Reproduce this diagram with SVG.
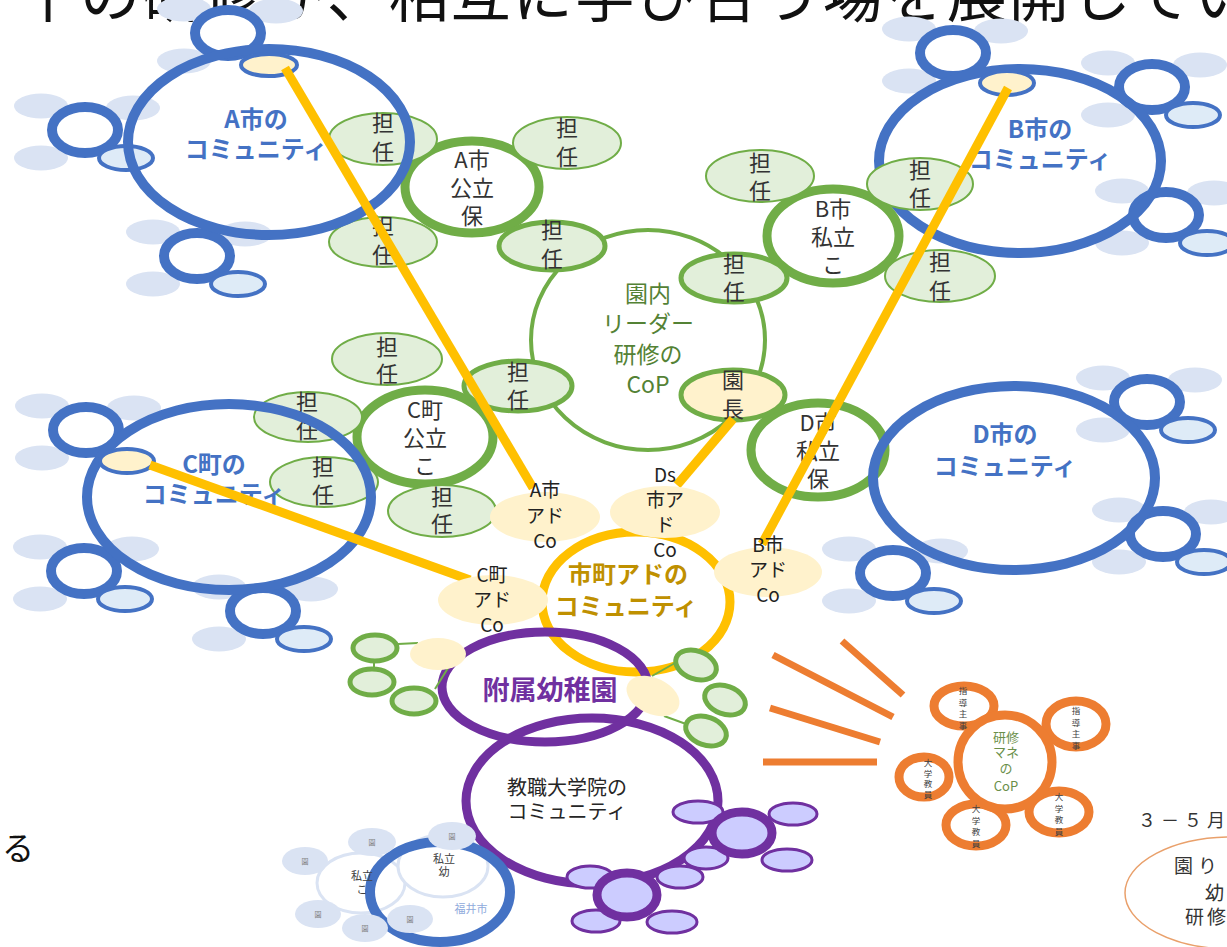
<svg xmlns="http://www.w3.org/2000/svg" width="1227" height="947" viewBox="0 0 1227 947">
  <defs>
    <style>
      text { font-family: "Noto Sans CJK JP", "Noto Sans", sans-serif; text-anchor: middle; }
      .title { font-size: 60px; fill: #111; text-anchor: start; letter-spacing: 2px; }
      .comm { fill: none; stroke: #4472C4; stroke-width: 10; }
      .sat { fill: #fff; stroke: #4472C4; stroke-width: 10; }
      .halo { fill: #DAE3F3; }
      .bud { fill: #DEEBF7; stroke: #4472C4; stroke-width: 4; }
      .cap { fill: #FFF2CC; stroke: #4472C4; stroke-width: 4; }
      .clabel { font-size: 24px; font-weight: bold; fill: #4472C4; }
      .cop { fill: #fff; stroke: #70AD47; stroke-width: 4; }
      .gring { fill: #fff; stroke: #70AD47; stroke-width: 9; }
      .tan { fill: #E2EFDA; stroke: #70AD47; stroke-width: 2; }
      .tan5 { fill: #E2EFDA; stroke: #70AD47; stroke-width: 5; }
      .head { fill: #FFF2CC; stroke: #70AD47; stroke-width: 5; }
      .gt { font-size: 22px; fill: #333; }
      .copt { font-size: 23px; fill: #548235; }
      .co { fill: #FFF2CC; }
      .cot { font-size: 19px; fill: #222; }
      .link { stroke: #FFC000; stroke-width: 9; fill: none; }
      .adring { fill: none; stroke: #FFC000; stroke-width: 9; }
      .adt { font-size: 24px; font-weight: bold; fill: #BF9000; }
      .pring { fill: none; stroke: #7030A0; stroke-width: 9; }
      .psat { fill: #CCCCFF; stroke: #7030A0; stroke-width: 9; }
      .pbud { fill: #CCCCFF; stroke: #7030A0; stroke-width: 3; }
      .gbud { fill: #E2EFDA; stroke: #70AD47; stroke-width: 5; }
      .thin { stroke: #70AD47; stroke-width: 2; fill: none; }
      .ray { stroke: #ED7D31; stroke-width: 7; }
      .oring { fill: #fff; stroke: #ED7D31; stroke-width: 9; }
      .vt { font-size: 8.5px; fill: #404040; }
      .faint { fill: #fff; stroke: #DAE3F3; stroke-width: 3; }
      .en { font-size: 7px; fill: #7F7F7F; }
      .small { font-size: 11px; fill: #404040; }
    </style>
    <!-- satellite school cluster: ring with three halo ellipses -->
    <g id="cluster">
      <ellipse class="halo" cx="-44" cy="-24" rx="27" ry="12.5"/>
      <ellipse class="halo" cx="48" cy="-22" rx="27" ry="12.5"/>
      <ellipse class="halo" cx="-44" cy="28" rx="27" ry="12.5"/>
      <ellipse class="sat" cx="0" cy="0" rx="33" ry="23"/>
    </g>
    <ellipse id="budA" class="bud" cx="41" cy="28" rx="27" ry="12"/>
  </defs>

  <!-- heading line running off the top edge -->
  <text class="title" x="18" y="17">十の研修が、相互に学び合う場を展開していく</text>

  <!-- B city community (sits beneath its member nodes) -->
  <g id="b-community">
    <use href="#cluster" x="953" y="53"/>
    <use href="#cluster" x="1152" y="87"/>
    <use href="#budA" x="1152" y="87"/>
    <use href="#cluster" x="1166" y="215"/>
    <use href="#budA" x="1166" y="215"/>
    <ellipse class="comm" cx="1020" cy="161" rx="141" ry="92"/>
    <ellipse class="cap" cx="1007" cy="83" rx="27" ry="12"/>
    <text class="clabel" x="1040" y="138">B市の</text>
    <text class="clabel" x="1040" y="168">コミュニティ</text>
  </g>

  <!-- in-kindergarten leader training CoP -->
  <g id="leader-cop">
    <ellipse class="cop" cx="648" cy="340" rx="117" ry="110"/>
    <text class="copt" x="648" y="302">園内</text>
    <text class="copt" x="648" y="332">リーダー</text>
    <text class="copt" x="648" y="363">研修の</text>
    <text class="copt" x="648" y="393">CoP</text>
  </g>

  <g id="a-public">
    <ellipse class="gring" cx="472" cy="187" rx="67" ry="46"/>
    <text class="gt" x="472" y="168">A市</text>
    <text class="gt" x="472" y="196">公立</text>
    <text class="gt" x="472" y="224">保</text>
  </g>
  <g id="b-private">
    <ellipse class="gring" cx="833" cy="236" rx="66" ry="47"/>
    <text class="gt" x="833" y="217">B市</text>
    <text class="gt" x="833" y="245">私立</text>
    <text class="gt" x="833" y="273">こ</text>
  </g>
  <g id="c-public">
    <ellipse class="gring" cx="425" cy="437" rx="68" ry="47"/>
    <text class="gt" x="425" y="418">C町</text>
    <text class="gt" x="425" y="446">公立</text>
    <text class="gt" x="425" y="474">こ</text>
  </g>
  <g id="d-private">
    <ellipse class="gring" cx="818" cy="450" rx="67" ry="47"/>
    <text class="gt" x="818" y="431">D市</text>
    <text class="gt" x="818" y="459">私立</text>
    <text class="gt" x="818" y="487">保</text>
  </g>

  <!-- homeroom teachers -->
  <g id="teachers">
    <g><ellipse class="tan" cx="383" cy="139" rx="54" ry="26"/><text class="gt" x="383" y="131">担<tspan x="383" dy="29">任</tspan></text></g>
    <g><ellipse class="tan" cx="567" cy="143" rx="54" ry="26"/><text class="gt" x="567" y="136">担<tspan x="567" dy="29">任</tspan></text></g>
    <g><ellipse class="tan" cx="383" cy="242" rx="54" ry="25"/><text class="gt" x="383" y="234">担<tspan x="383" dy="29">任</tspan></text></g>
    <g><ellipse class="tan5" cx="552" cy="246" rx="53" ry="24"/><text class="gt" x="552" y="238">担<tspan x="552" dy="29">任</tspan></text></g>
    <g><ellipse class="tan" cx="760" cy="176" rx="54" ry="26"/><text class="gt" x="760" y="171">担<tspan x="760" dy="28">任</tspan></text></g>
    <g><ellipse class="tan" cx="920" cy="184" rx="53" ry="26"/><text class="gt" x="920" y="178">担<tspan x="920" dy="28">任</tspan></text></g>
    <g><ellipse class="tan" cx="940" cy="276" rx="55" ry="26"/><text class="gt" x="940" y="270">担<tspan x="940" dy="29">任</tspan></text></g>
    <g><ellipse class="tan5" cx="734" cy="278" rx="53" ry="24"/><text class="gt" x="734" y="272">担<tspan x="734" dy="28">任</tspan></text></g>
    <g><ellipse class="tan" cx="387" cy="359" rx="55" ry="26"/><text class="gt" x="387" y="355">担<tspan x="387" dy="27">任</tspan></text></g>
    <g><ellipse class="tan5" cx="518" cy="386" rx="54" ry="25"/><text class="gt" x="518" y="380">担<tspan x="518" dy="28">任</tspan></text></g>
    <g><ellipse class="tan" cx="308" cy="417" rx="54" ry="25"/><text class="gt" x="307" y="410">担<tspan x="307" dy="28">任</tspan></text></g>
    <g><ellipse class="tan" cx="324" cy="482" rx="54" ry="25"/><text class="gt" x="323" y="475">担<tspan x="323" dy="28">任</tspan></text></g>
    <g><ellipse class="tan" cx="442" cy="511" rx="54" ry="26"/><text class="gt" x="442" y="505">担<tspan x="442" dy="27">任</tspan></text></g>
    <g id="principal"><ellipse class="head" cx="733" cy="395" rx="52" ry="25"/><text class="gt" x="733" y="388">園<tspan x="733" dy="29">長</tspan></text></g>
  </g>

  <!-- A city community -->
  <g id="a-community">
    <use href="#cluster" x="228" y="33"/>
    <use href="#cluster" x="85" y="130"/>
    <use href="#budA" x="85" y="130"/>
    <use href="#cluster" x="197" y="256"/>
    <use href="#budA" x="197" y="256"/>
    <ellipse class="comm" cx="269" cy="142" rx="141" ry="93"/>
    <ellipse class="cap" cx="269" cy="65" rx="28" ry="11"/>
    <text class="clabel" x="256" y="128">A市の</text>
    <text class="clabel" x="256" y="158">コミュニティ</text>
  </g>

  <!-- C town community -->
  <g id="c-community">
    <use href="#cluster" x="86" y="430"/>
    <use href="#cluster" x="84" y="571"/>
    <use href="#budA" x="84" y="571"/>
    <use href="#cluster" x="263" y="611"/>
    <use href="#budA" x="263" y="611"/>
    <ellipse class="comm" cx="229" cy="497" rx="142" ry="93"/>
    <ellipse class="cap" cx="127" cy="461" rx="27" ry="12"/>
    <text class="clabel" x="214" y="473">C町の</text>
    <text class="clabel" x="214" y="503">コミュニティ</text>
  </g>

  <!-- D city community -->
  <g id="d-community">
    <use href="#cluster" x="1147" y="402"/>
    <use href="#budA" x="1147" y="402"/>
    <use href="#cluster" x="1163" y="534"/>
    <use href="#budA" x="1163" y="534"/>
    <use href="#cluster" x="893" y="573"/>
    <use href="#budA" x="893" y="573"/>
    <ellipse class="comm" cx="1014" cy="478" rx="141" ry="92"/>
    <text class="clabel" x="1005" y="443">D市の</text>
    <text class="clabel" x="1005" y="475">コミュニティ</text>
  </g>

  <!-- municipal advisor community ring -->
  <ellipse id="advisor-ring" class="adring" cx="636" cy="602" rx="94" ry="70"/>

  <!-- graduate school community and its satellites -->
  <g id="graduate-school">
    <ellipse class="pring" cx="592" cy="801" rx="126" ry="83" stroke-width="10"/>
    <ellipse class="pbud" cx="698" cy="812" rx="25" ry="11"/>
    <ellipse class="pbud" cx="793" cy="814" rx="24" ry="11"/>
    <ellipse class="pbud" cx="787" cy="860" rx="25" ry="11"/>
    <ellipse class="pbud" cx="706" cy="858" rx="22" ry="11"/>
    <ellipse class="psat" cx="742" cy="833" rx="30" ry="21"/>
    <ellipse class="pbud" cx="680" cy="877" rx="23" ry="11"/>
    <ellipse class="pbud" cx="590" cy="877" rx="23" ry="11"/>
    <ellipse class="pbud" cx="596" cy="921" rx="24" ry="11"/>
    <ellipse class="pbud" cx="672" cy="922" rx="25" ry="11"/>
    <ellipse class="psat" cx="627" cy="895" rx="30" ry="22"/>
    <text x="567" y="795" font-size="20" fill="#262626">教職大学院の</text>
    <text x="567" y="819" font-size="20" fill="#262626">コミュニティ</text>
  </g>

  <!-- attached kindergarten -->
  <g id="attached-kindergarten">
    <ellipse class="pring" cx="545" cy="687" rx="103" ry="55"/>
    <line class="thin" x1="398" y1="644" x2="418" y2="643"/>
    <line class="thin" x1="374" y1="662" x2="374" y2="668"/>
    <line class="thin" x1="435" y1="689" x2="448" y2="668"/>
    <line class="thin" x1="652" y1="676" x2="675" y2="663"/>
    <line class="thin" x1="664" y1="716" x2="686" y2="724"/>
    <ellipse class="gbud" cx="375" cy="648" rx="22" ry="13"/>
    <ellipse class="gbud" cx="372" cy="682" rx="22" ry="13"/>
    <ellipse class="gbud" cx="414" cy="701" rx="22" ry="13"/>
    <ellipse class="gbud" cx="696" cy="665" rx="21" ry="14" transform="rotate(20 696 665)"/>
    <ellipse class="gbud" cx="725" cy="700" rx="21" ry="14" transform="rotate(20 725 700)"/>
    <ellipse class="gbud" cx="706" cy="731" rx="21" ry="14" transform="rotate(20 706 731)"/>
    <ellipse class="co" cx="438" cy="654" rx="28" ry="16"/>
    <ellipse class="co" cx="653" cy="696" rx="28" ry="18" transform="rotate(25 653 696)"/>
    <text x="550" y="700" font-size="27" font-weight="bold" fill="#7030A0">附属幼稚園</text>
  </g>

  <!-- advisor connectors -->
  <g id="connectors">
    <line class="link" x1="285" y1="68" x2="533" y2="488"/>
    <line class="link" x1="1008" y1="88" x2="762" y2="544"/>
    <line class="link" x1="150" y1="465" x2="470" y2="580"/>
    <line class="link" x1="733" y1="419" x2="677" y2="485"/>
  </g>

  <!-- advisor coordinators -->
  <g id="a-advisor">
    <ellipse class="co" cx="545" cy="517" rx="55" ry="25"/>
    <text class="cot" x="545" y="497">A市</text>
    <text class="cot" x="545" y="523">アド</text>
    <text class="cot" x="545" y="548">Co</text>
  </g>
  <g id="ds-advisor">
    <ellipse class="co" cx="665" cy="512" rx="55" ry="26"/>
    <text class="cot" x="665" y="482">Ds</text>
    <text class="cot" x="665" y="507">市ア</text>
    <text class="cot" x="665" y="532">ド</text>
    <text class="cot" x="665" y="557">Co</text>
  </g>
  <g id="b-advisor">
    <ellipse class="co" cx="768" cy="572" rx="54" ry="25"/>
    <text class="cot" x="768" y="552">B市</text>
    <text class="cot" x="768" y="577">アド</text>
    <text class="cot" x="768" y="602">Co</text>
  </g>
  <g id="c-advisor">
    <ellipse class="co" cx="493" cy="600" rx="55" ry="25"/>
    <text class="cot" x="492" y="582">C町</text>
    <text class="cot" x="492" y="607">アド</text>
    <text class="cot" x="492" y="632">Co</text>
  </g>
  <g id="advisor-label">
    <text class="adt" x="628" y="583">市町アドの</text>
    <text class="adt" x="626" y="615">コミュニティ</text>
  </g>

  <!-- rays toward the training management CoP -->
  <g id="rays">
    <line class="ray" x1="842" y1="641" x2="903" y2="695"/>
    <line class="ray" x1="773" y1="655" x2="893" y2="717"/>
    <line class="ray" x1="770" y1="708" x2="880" y2="742"/>
    <line class="ray" x1="763" y1="762" x2="877" y2="762"/>
  </g>

  <!-- training management CoP -->
  <g id="training-cop">
    <ellipse class="oring" cx="964" cy="706" rx="30" ry="20"/>
    <ellipse class="oring" cx="1076" cy="724" rx="30" ry="23"/>
    <ellipse class="oring" cx="924" cy="777" rx="25" ry="20"/>
    <ellipse class="oring" cx="976" cy="825" rx="30" ry="21"/>
    <ellipse class="oring" cx="1059" cy="812" rx="30" ry="21"/>
    <ellipse class="oring" cx="1005" cy="762" rx="47" ry="47" stroke-width="10"/>
    <text x="1006" y="742" font-size="13" fill="#6A8F4A">研修</text>
    <text x="1006" y="757" font-size="13" fill="#6A8F4A">マネ</text>
    <text x="1006" y="773" font-size="13" fill="#6A8F4A">の</text>
    <text x="1006" y="791" font-size="13" fill="#6A8F4A">CoP</text>
    <text class="vt" x="963" y="694">指<tspan x="963" dy="11.5">導</tspan><tspan x="963" dy="11.5">主</tspan><tspan x="963" dy="11.5">事</tspan></text>
    <text class="vt" x="1076" y="714">指<tspan x="1076" dy="11.5">導</tspan><tspan x="1076" dy="11.5">主</tspan><tspan x="1076" dy="11.5">事</tspan></text>
    <text class="vt" x="928" y="766">大<tspan x="928" dy="10.5">学</tspan><tspan x="928" dy="10.5">教</tspan><tspan x="928" dy="10.5">員</tspan></text>
    <text class="vt" x="976" y="812">大<tspan x="976" dy="11.5">学</tspan><tspan x="976" dy="11.5">教</tspan><tspan x="976" dy="11.5">員</tspan></text>
    <text class="vt" x="1059" y="800">大<tspan x="1059" dy="11.5">学</tspan><tspan x="1059" dy="11.5">教</tspan><tspan x="1059" dy="11.5">員</tspan></text>
  </g>

  <!-- Fukui city cluster -->
  <g id="fukui">
    <ellipse class="faint" cx="361" cy="883" rx="44" ry="30"/>
    <ellipse class="faint" cx="443" cy="866" rx="45" ry="31"/>
    <ellipse fill="none" stroke="#4472C4" stroke-width="10" cx="440" cy="892" rx="70" ry="50"/>
    <ellipse class="halo" cx="305" cy="861" rx="23" ry="14"/>
    <ellipse class="halo" cx="372" cy="842" rx="24" ry="14"/>
    <ellipse class="halo" cx="452" cy="836" rx="24" ry="14"/>
    <ellipse class="halo" cx="318" cy="914" rx="23" ry="14"/>
    <ellipse class="halo" cx="365" cy="928" rx="23" ry="14"/>
    <ellipse class="halo" cx="410" cy="919" rx="23" ry="14"/>
    <text class="en" x="305" y="864">園</text>
    <text class="en" x="372" y="845">園</text>
    <text class="en" x="452" y="839">園</text>
    <text class="en" x="318" y="917">園</text>
    <text class="en" x="365" y="931">園</text>
    <text class="en" x="410" y="922">園</text>
    <text class="small" x="362" y="880">私立</text>
    <text class="small" x="362" y="894">こ</text>
    <text class="small" x="444" y="863">私立</text>
    <text class="small" x="444" y="876">幼</text>
    <text x="471" y="913" font-size="11" fill="#8FAADC">福井市</text>
  </g>

  <!-- schedule note and side elements at the edges -->
  <text x="1138" y="827" font-size="18" fill="#333" style="text-anchor:start; letter-spacing:5px">３－５月</text>
  <g id="kindergarten-training">
    <ellipse fill="#fff" stroke="#E9A06B" stroke-width="1.5" cx="1232" cy="893" rx="107" ry="56"/>
    <text x="1174" y="873" font-size="19" fill="#333" style="text-anchor:start; letter-spacing:5px">園り・</text>
    <text x="1205" y="900" font-size="19" fill="#333" style="text-anchor:start">幼</text>
    <text x="1185" y="924" font-size="19" fill="#333" style="text-anchor:start; letter-spacing:3px">研修</text>
  </g>
  <text x="2" y="860" font-size="32" fill="#111" style="text-anchor:start">る</text>
</svg>
